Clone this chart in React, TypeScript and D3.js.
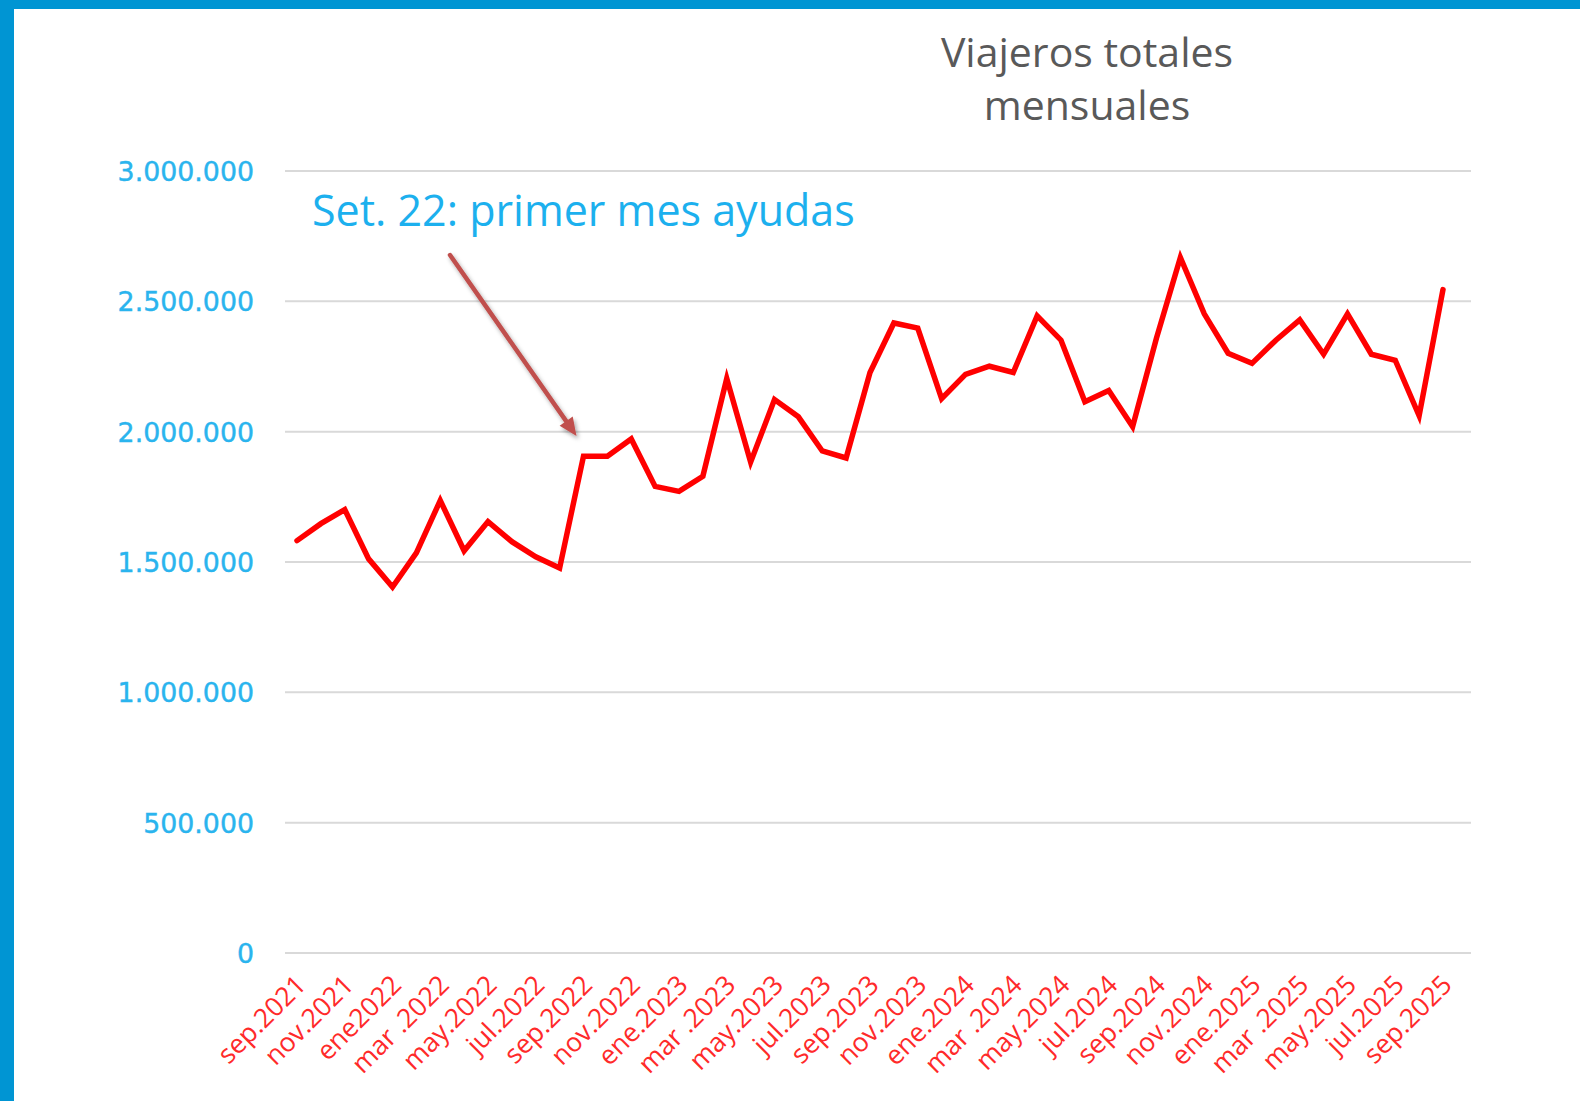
import React from "react";
import * as d3 from "d3";

const months: string[] = [
  "sep.2021","oct.2021","nov.2021","dic.2021","ene.2022","feb.2022","mar.2022","abr.2022","may.2022","jun.2022","jul.2022","ago.2022",
  "sep.2022","oct.2022","nov.2022","dic.2022","ene.2023","feb.2023","mar.2023","abr.2023","may.2023","jun.2023","jul.2023","ago.2023",
  "sep.2023","oct.2023","nov.2023","dic.2023","ene.2024","feb.2024","mar.2024","abr.2024","may.2024","jun.2024","jul.2024","ago.2024",
  "sep.2024","oct.2024","nov.2024","dic.2024","ene.2025","feb.2025","mar.2025","abr.2025","may.2025","jun.2025","jul.2025","ago.2025",
  "sep.2025",
];

const travellers: number[] = [
  1582000, 1647000, 1701000, 1512000, 1404000, 1535000, 1736000, 1543000, 1655000, 1578000, 1520000, 1477000,
  1906000, 1906000, 1972000, 1790000, 1771000, 1829000, 2204000, 1883000, 2123000, 2057000, 1926000, 1899000,
  2227000, 2417000, 2397000, 2127000, 2220000, 2251000, 2227000, 2444000, 2351000, 2115000, 2158000, 2019000,
  2359000, 2668000, 2452000, 2301000, 2262000, 2351000, 2429000, 2297000, 2452000, 2297000, 2274000, 2061000,
  2545000,
];

// shown tick labels (every second month), as written in the source
const tickLabels: string[] = [
  "sep.2021","nov.2021","ene2022","mar .2022","may.2022","jul.2022","sep.2022","nov.2022","ene.2023","mar .2023",
  "may.2023","jul.2023","sep.2023","nov.2023","ene.2024","mar .2024","may.2024","jul.2024","sep.2024","nov.2024",
  "ene.2025","mar .2025","may.2025","jul.2025","sep.2025",
];

const yTicks: number[] = [0, 500000, 1000000, 1500000, 2000000, 2500000, 3000000];

const titleLines: string[] = ["Viajeros totales", "mensuales"];
const annotationText = "Set. 22: primer mes ayudas";
const annotationMonth = "sep.2022";

const W = 1580;
const H = 1101;

export default function App() {
  const x = d3.scalePoint<string>().domain(months).range([297, 1443]);
  const y = d3.scaleLinear().domain([0, 3000000]).range([953, 171]);
  const fmt = (v: number) => d3.format(",")(v).replace(/,/g, ".");

  const line = d3
    .line<number>()
    .x((_, i) => x(months[i]) as number)
    .y((d) => y(d));

  const gridX0 = 285;
  const gridX1 = 1471;

  const shown = months.filter((_, i) => i % 2 === 0);

  // annotation arrow
  const tipX = (x(annotationMonth) as number) - 7;
  const tipY = y(1930000) - 14;
  const tailX = 450;
  const tailY = 255;
  const ang = Math.atan2(tipY - tailY, tipX - tailX);
  const ah = 18;
  const aw = 8;
  const bx = tipX - ah * Math.cos(ang);
  const by = tipY - ah * Math.sin(ang);
  const head = [
    [tipX, tipY],
    [bx + aw * Math.sin(ang), by - aw * Math.cos(ang)],
    [bx - aw * Math.sin(ang), by + aw * Math.cos(ang)],
  ]
    .map((p) => p.join(","))
    .join(" ");

  return (
    <svg
      width={W}
      height={H}
      style={{ position: "absolute", left: 0, top: 0, background: "#ffffff" }}
    >
      <defs>
        <filter id="shadow" x="-20%" y="-20%" width="140%" height="140%">
          <feDropShadow dx="2" dy="3" stdDeviation="2" floodColor="#000" floodOpacity="0.35" />
        </filter>
      </defs>
      <rect x={0} y={0} width={W} height={H} fill="#ffffff" />
      <rect x={0} y={0} width={W} height={9} fill="#0095d3" />
      <rect x={0} y={0} width={14} height={H} fill="#0095d3" />

      {/* title */}
      <text
        x={1087}
        y={67}
        textAnchor="middle"
        fontFamily="'Open Sans', sans-serif"
        fontSize={41}
        fill="#595959"
      >
        {titleLines.map((t, i) => (
          <tspan key={i} x={1087} dy={i === 0 ? 0 : 53}>
            {t}
          </tspan>
        ))}
      </text>

      {/* grid + y labels */}
      {yTicks.map((t) => (
        <g key={t}>
          <line x1={gridX0} x2={gridX1} y1={y(t)} y2={y(t)} stroke="#d9d9d9" strokeWidth={2} />
          <text
            x={254}
            y={y(t) + 10}
            textAnchor="end"
            fontFamily="'DejaVu Sans', sans-serif"
            fontSize={26.8}
            fill="#2ab4ee"
            stroke="#2ab4ee"
            strokeWidth={0.4}
          >
            {fmt(t)}
          </text>
        </g>
      ))}

      {/* x labels */}
      {shown.map((m, i) => (
        <text
          key={m}
          transform={`translate(${(x(m) as number) + 4},${980}) rotate(-45)`}
          textAnchor="end"
          fontFamily="'Open Sans', sans-serif"
          fontSize={26.5}
          fill="#ff2a2a"
          dy="0.35em"
        >
          {tickLabels[i]}
        </text>
      ))}

      {/* data line */}
      <path
        d={line(travellers) || ""}
        fill="none"
        stroke="#ff0000"
        strokeWidth={5.5}
        strokeLinejoin="miter"
        strokeLinecap="round"
      />

      {/* annotation */}
      <text
        x={312}
        y={226}
        fontFamily="'Open Sans', sans-serif"
        fontSize={43}
        fill="#1cb0ee"
      >
        {annotationText}
      </text>
      <g filter="url(#shadow)">
        <line
          x1={tailX}
          y1={tailY}
          x2={bx}
          y2={by}
          stroke="#c0504d"
          strokeWidth={4.5}
          strokeLinecap="round"
        />
        <polygon points={head} fill="#c0504d" />
      </g>
    </svg>
  );
}
